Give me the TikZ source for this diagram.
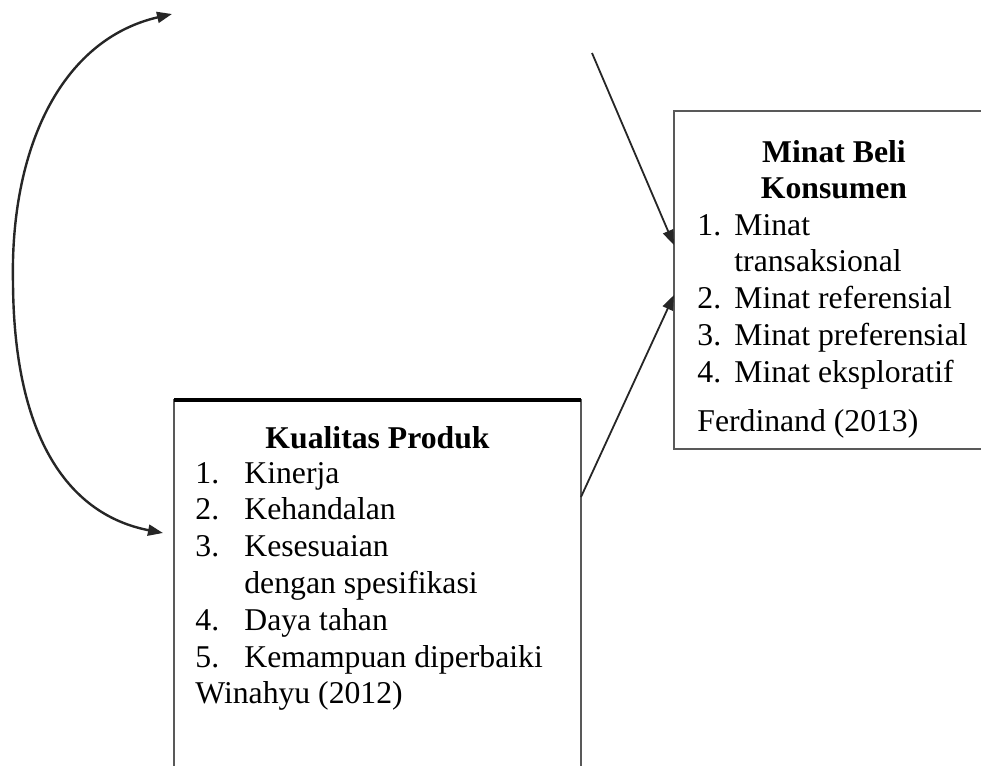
\documentclass[tikz,border=0pt]{standalone}
\usepackage{fontspec}
\setmainfont{Liberation Serif}
\usetikzlibrary{arrows.meta,positioning}
\begin{document}
\begin{tikzpicture}
[x=0.5pt, y=-0.5pt, font=\fontsize{15.85}{18.4}\selectfont, >={Triangle[length=7.5pt,width=5.5pt]}]
\tikzstyle{kotak}=[draw=gray!70!black, line width=1.3pt, inner sep=0pt, outer sep=0pt, anchor=north west]
\tikzstyle{judul}=[font=\fontsize{15.85}{18}\selectfont\bfseries, inner sep=0pt, anchor=base]
\tikzstyle{isi}=[inner sep=0pt, anchor=base west]
\tikzstyle{panah}=[->, line width=0.9pt, draw=black!85]
\useasboundingbox (0,0) rectangle (981,766);
\clip (0,0) rectangle (981,766);

% kotak variabel
\node[kotak, minimum width=203.5pt, minimum height=200pt] (kp) at (174,400) {};
\node[kotak, minimum width=160pt, minimum height=169pt] (mb) at (674,111) {};
\draw[line width=1.6pt] (kp.north west) -- (kp.north east);

\node[judul] (kpjudul) at ([yshift=-24pt]kp.north) {Kualitas Produk};
\node[isi] (kpisi) at ([xshift=10.5pt, yshift=-41.5pt]kp.north west)
  {\begin{tabular}[t]{@{}p{24.5pt}@{}l@{}}
   1. & Kinerja\\
   2. & Kehandalan\\
   3. & Kesesuaian\\
      & dengan spesifikasi\\
   4. & Daya tahan\\
   5. & Kemampuan diperbaiki\\
   \multicolumn{2}{@{}l@{}}{Winahyu (2012)}
   \end{tabular}};

\node[judul] (mbjudul) at ([yshift=-25.5pt]mb.north)
  {\begin{tabular}[t]{@{}c@{}}Minat Beli\\Konsumen\end{tabular}};
\node[isi] (mbisi) at ([xshift=11.5pt, yshift=-62pt]mb.north west)
  {\begin{tabular}[t]{@{}p{18.5pt}@{}l@{}}
   1. & Minat\\
      & transaksional\\
   2. & Minat referensial\\
   3. & Minat preferensial\\
   4. & Minat eksploratif\\[6pt]
   \multicolumn{2}{@{}l@{}}{Ferdinand (2013)}
   \end{tabular}};

% panah
\coordinate (atas) at (592,53);
\coordinate (kiriatas) at (172,14);
\draw[panah] (atas) -- ([yshift=17.5pt]mb.west);
\draw[panah] ([yshift=-48.5pt]kp.north east) -- ([yshift=-7.5pt]mb.west);
\draw[panah, <->, line width=1.2pt] (kiriatas) .. controls (60,40) and (10,150) .. (13,283)
  .. controls (14,440) and (70,515) .. ([xshift=-5.5pt, yshift=-66.5pt]kp.north west);
\end{tikzpicture}
\end{document}
